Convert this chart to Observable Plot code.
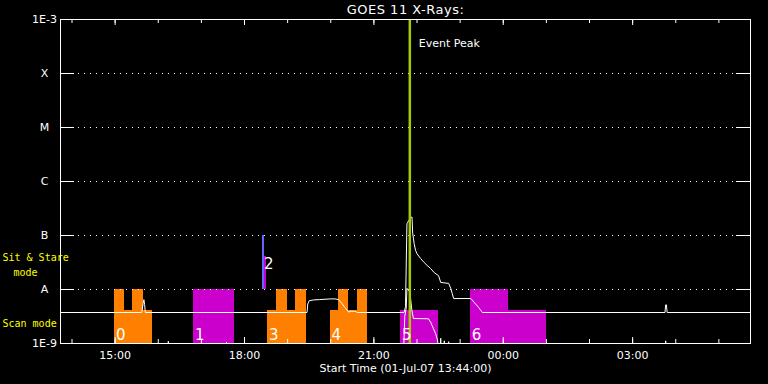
<!DOCTYPE html>
<html>
<head>
<meta charset="utf-8">
<script src="https://cdn.jsdelivr.net/npm/d3@7"></script>
<script src="https://cdn.jsdelivr.net/npm/@observablehq/plot@0.6"></script>
<style>
  html, body { margin: 0; padding: 0; background: #000; }
  #chart svg { display: block; }
</style>
</head>
<body>
<div id="chart"></div>
<script>
// ---------------- DATA ----------------
const titleText = "GOES 11 X-Rays:";
const xLabelText = "Start Time (01-Jul-07 13:44:00)";
const startTime = "13:44";
const endTime = "05:44";
const eventPeakTime = "21:50";
const eventPeakText = "Event Peak";

const yTickValues = [1e-3, 1e-4, 1e-5, 1e-6, 1e-7, 1e-8, 1e-9];
const yTickLabels = ["1E-3", "X", "M", "C", "B", "A", "1E-9"];

const xMajorTicks = ["15:00", "18:00", "21:00", "00:00", "03:00"];
const xMinorTicks = ["14:00", "15:00", "16:00", "17:00", "18:00", "19:00", "20:00", "21:00",
                     "22:00", "23:00", "00:00", "01:00", "02:00", "03:00", "04:00", "05:00"];

// GOES long channel (1-8 A)
const goesLongTime = ["13:44", "15:37", "15:39", "15:40", "15:41", "15:42",
  "19:27", "19:28", "19:30", "19:36", "19:44", "19:52", "20:00", "20:06", "20:11", "20:16", "20:20", "20:25", "20:27", "20:34", "20:37",
  "21:42", "21:44", "21:46", "21:51", "21:53", "21:54", "21:56", "21:58", "22:00", "22:05", "22:10", "22:14", "22:19", "22:24", "22:30",
  "22:33", "22:44", "22:47", "22:49", "22:51", "23:15", "23:26", "23:31",
  "03:45", "03:46", "03:47", "03:48", "05:44"];
const goesLongFlux = [3.75e-9, 3.75e-9, 5.5e-9, 6.5e-9, 5.3e-9, 3.75e-9,
  3.75e-9, 5.4e-9, 6.2e-9, 6.4e-9, 6.5e-9, 6.6e-9, 6.7e-9, 6.7e-9, 6.5e-9, 5.4e-9, 4.6e-9, 3.8e-9, 3.95e-9, 3.95e-9, 3.75e-9,
  3.75e-9, 4.8e-9, 1.65e-7, 2.15e-7, 2.2e-7, 1.1e-7, 7.1e-8, 5.3e-8, 4.6e-8, 3.75e-8, 3.15e-8, 2.8e-8, 2.45e-8, 2.05e-8, 1.8e-8,
  1.35e-8, 1.3e-8, 1.05e-8, 8.4e-9, 6.8e-9, 6.8e-9, 4.6e-9, 3.75e-9,
  3.75e-9, 5.2e-9, 5.2e-9, 3.75e-9, 3.75e-9];

// GOES short channel (0.5-4 A), mostly below 1E-9
const goesShortTime = ["13:44", "16:13", "16:14", "16:15", "17:34", "17:35", "17:36",
  "21:41", "21:43", "21:45", "21:46", "21:50", "21:53", "21:55", "22:16", "22:19", "22:21", "22:23", "22:26", "22:28", "22:30", "22:31",
  "22:32", "22:33", "22:34", "22:37", "22:38", "22:39", "22:43", "22:44", "22:45",
  "03:45", "03:46", "03:47", "05:44"];
const goesShortFlux = [5e-10, 5e-10, 1.1e-9, 5e-10, 5e-10, 1.05e-9, 5e-10,
  5e-10, 3.2e-9, 4.5e-9, 1.05e-8, 9e-9, 4.0e-9, 2.9e-9, 2.87e-9, 2.48e-9, 2.15e-9, 1.87e-9, 1.51e-9, 1.22e-9, 9e-10, 5e-10,
  5e-10, 1.25e-9, 5e-10, 5e-10, 1.12e-9, 5e-10, 5e-10, 1.08e-9, 5e-10,
  5e-10, 1.12e-9, 5e-10, 5e-10];

// Observation segments
const segStart = ["14:59", "15:13", "15:24", "15:40", "16:49", "18:25", "18:28", "18:32", "18:45", "19:00", "19:11",
                  "19:59", "20:11", "20:25", "20:37", "21:37", "23:14", "00:07"];
const segEnd   = ["15:13", "15:24", "15:40", "15:52", "17:46", "18:28", "18:31", "18:45", "19:00", "19:11", "19:26",
                  "20:11", "20:25", "20:37", "20:51", "22:30", "00:07", "01:00"];
const segMode  = ["scan", "scan", "scan", "scan", "scan", "stare", "stare", "scan", "scan", "scan", "scan",
                  "scan", "scan", "scan", "scan", "scan", "scan", "scan"];
const segStudy = ["study A", "study A", "study A", "study A", "study B", "study C", "study B", "study A", "study A", "study A", "study A",
                  "study A", "study A", "study A", "study A", "study B", "study B", "study B"];
const segTop   = [1e-8, 4e-9, 1e-8, 4e-9, 1e-8, 1e-7, 4e-8, 4e-9, 1e-8, 4e-9, 1e-8,
                  4e-9, 1e-8, 4e-9, 1e-8, 4e-9, 1e-8, 4e-9];

const obsLabels = ["0", "1", "2", "3", "4", "5", "6"];
const obsLabelStart = ["14:59", "16:49", "18:25", "18:32", "19:59", "21:37", "23:14"];
const obsLabelMode = ["scan", "scan", "stare", "scan", "scan", "scan", "scan"];

const modeLabels = ["Sit & Stare", "mode", "Scan mode"];

// ---------------- BUILD ----------------
const tod = s => { const [h, m] = s.split(":").map(Number); let v = h + m / 60; if (v < 12) v += 24; return v; };
const X0 = tod(startTime), X1 = tod(endTime);
const modeBase = {scan: 1e-9, stare: 1e-8};

const longData = goesLongTime.map((t, i) => ({x: tod(t), y: goesLongFlux[i]}));
const shortData = goesShortTime.map((t, i) => ({x: tod(t), y: goesShortFlux[i]}));
const segs = segStart.map((s, i) => ({x1: tod(s), x2: tod(segEnd[i]), y1: modeBase[segMode[i]], y2: segTop[i], study: segStudy[i]}));
const obs = obsLabels.map((l, i) => ({x: tod(obsLabelStart[i]), y: modeBase[obsLabelMode[i]], text: l, mode: obsLabelMode[i]}));
const yTicks = yTickValues.map((v, i) => ({y: v, label: yTickLabels[i]}));
const majors = xMajorTicks.map(t => ({x: tod(t), label: t}));
const minors = xMinorTicks.map(tod);

const W = 768, H = 384, mL = 60, mR = 18, mT = 19, mB = 41;
const fw = W - mL - mR, fh = H - mT - mB;
const FONT = "DejaVu Sans";
const MONO = "DejaVu Sans Mono";

const chart = Plot.plot({
  width: W, height: H,
  marginLeft: mL, marginRight: mR, marginTop: mT, marginBottom: mB,
  style: {background: "black", color: "white", fontFamily: FONT, fontSize: "11px"},
  x: {domain: [X0, X1], axis: null},
  y: {type: "log", domain: [1e-9, 1e-3], axis: null},
  color: {domain: ["study A", "study B", "study C"], range: ["#ff8000", "#cc00cc", "#6464ff"]},
  marks: [
    Plot.rect(segs, {x1: "x1", x2: "x2", y1: "y1", y2: "y2", fill: "study", shapeRendering: "crispEdges"}),
    Plot.ruleY(yTickValues.slice(1, -1), {stroke: "white", strokeDasharray: "1,5"}),
    Plot.tickY(yTickValues, {stroke: "white", insetRight: fw - 14}),
    Plot.tickY(yTickValues, {stroke: "white", insetLeft: fw - 14}),
    Plot.tickX(minors, {stroke: "white", insetTop: fh - 4}),
    Plot.tickX(minors, {stroke: "white", insetBottom: fh - 4}),
    Plot.tickX(majors, {x: "x", stroke: "white", insetTop: fh - 6}),
    Plot.tickX(majors, {x: "x", stroke: "white", insetBottom: fh - 6}),
    Plot.line(shortData, {x: "x", y: "y", stroke: "white", strokeWidth: 1, clip: true}),
    Plot.line(longData, {x: "x", y: "y", stroke: "white", strokeWidth: 1, clip: true}),
    Plot.ruleX([tod(eventPeakTime)], {stroke: "#a5cc00", strokeWidth: 2.5}),
    Plot.frame({stroke: "white"}),
    Plot.text(obs.filter(d => d.mode === "scan"), {x: "x", y: "y", text: "text", fill: "white", fontSize: 15, textAnchor: "start", lineAnchor: "bottom", dx: 1.5, dy: -4}),
    Plot.text(obs.filter(d => d.mode === "stare"), {x: "x", y: "y", text: "text", fill: "white", fontSize: 15, textAnchor: "start", lineAnchor: "bottom", dx: 1.5, dy: -21}),
    Plot.text([titleText], {frameAnchor: "top", text: d => d, fill: "white", fontSize: 13, lineAnchor: "middle", dy: -10}),
    Plot.text([eventPeakText], {x: () => tod(eventPeakTime), frameAnchor: "top", text: d => d, fill: "white", textAnchor: "start", lineAnchor: "middle", dx: 9, dy: 23.5}),
    Plot.text(yTicks, {x: () => X0, y: "y", text: "label", fill: "white", textAnchor: "middle", lineAnchor: "middle", dx: -16}),
    Plot.text(majors, {x: "x", frameAnchor: "bottom", text: "label", fill: "white", lineAnchor: "middle", dy: 12}),
    Plot.text([xLabelText], {frameAnchor: "bottom", text: d => d, fill: "white", lineAnchor: "middle", dy: 25}),
    Plot.text([modeLabels[0]], {frameAnchor: "bottom-left", text: d => d, fill: "#ffff00", fontFamily: MONO, fontSize: 10, textAnchor: "start", lineAnchor: "middle", dx: -58, dy: -86}),
    Plot.text([modeLabels[1]], {frameAnchor: "bottom-left", text: d => d, fill: "#ffff00", fontFamily: MONO, fontSize: 10, textAnchor: "start", lineAnchor: "middle", dx: -47, dy: -71}),
    Plot.text([modeLabels[2]], {frameAnchor: "bottom-left", text: d => d, fill: "#ffff00", fontFamily: MONO, fontSize: 10, textAnchor: "start", lineAnchor: "middle", dx: -58, dy: -20})
  ]
});
d3.select(chart).selectAll("text")
  .filter(function () { return this.textContent === titleText; })
  .attr("letter-spacing", "0.5px");
document.getElementById("chart").appendChild(chart);
</script>
</body>
</html>
